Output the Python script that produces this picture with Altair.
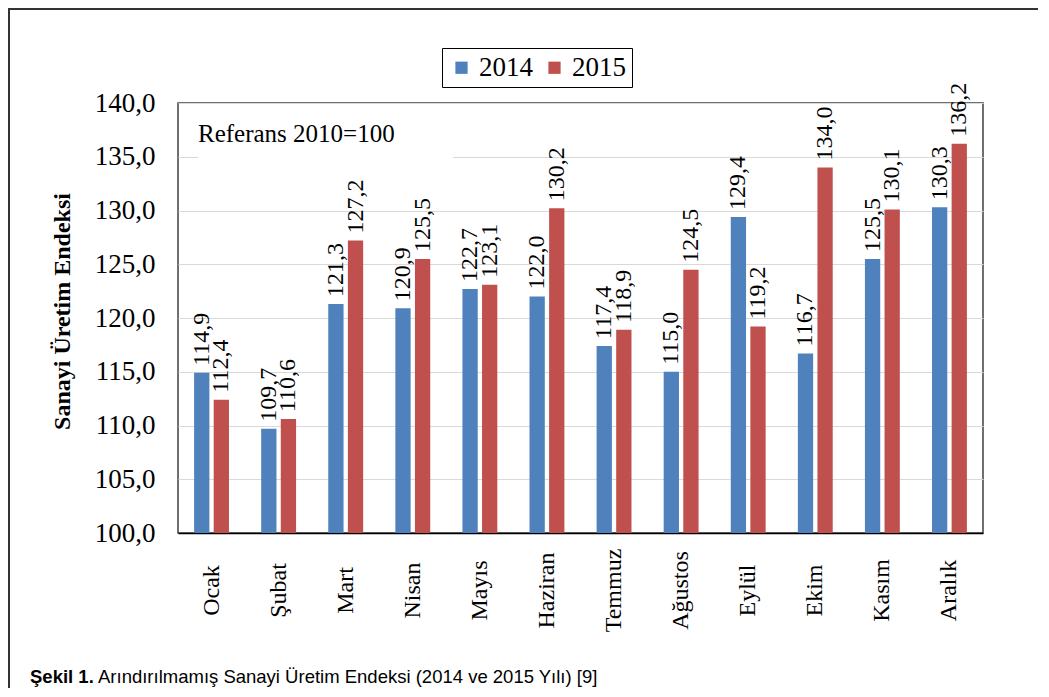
import altair as alt
import pandas as pd

months = ["Ocak", "Şubat", "Mart", "Nisan", "Mayıs", "Haziran",
          "Temmuz", "Ağustos", "Eylül", "Ekim", "Kasım", "Aralık"]
years = ["2014", "2015"]
v2014 = [114.9, 109.7, 121.3, 120.9, 122.7, 122.0, 117.4, 115.0, 129.4, 116.7, 125.5, 130.3]
v2015 = [112.4, 110.6, 127.2, 125.5, 123.1, 130.2, 118.9, 124.5, 119.2, 134.0, 130.1, 136.2]
y_ticks = [100, 105, 110, 115, 120, 125, 130, 135, 140]
colors = ["#4F81BD", "#C0504D"]

rows = []
for m, a, b in zip(months, v2014, v2015):
    rows.append({"month": m, "year": "2014", "value": a})
    rows.append({"month": m, "year": "2015", "value": b})
df = pd.DataFrame(rows)

W, H = 805, 430
serif = "Liberation Serif"
fmt = "replace(format(datum.value, '.1f'), '.', ',')"

x_enc = alt.X(
    "month:N", sort=months, title=None,
    scale=alt.Scale(paddingInner=0.48, paddingOuter=0.24),
    axis=alt.Axis(labelAngle=270, labelAlign="center", labelBaseline="middle",
                  labelPadding=57, ticks=False, domain=True, domainColor="#000000",
                  domainWidth=1.5, labelFont=serif, labelFontSize=24,
                  labelColor="#000000", grid=False),
)
xoff = alt.XOffset("year:N", sort=years, scale=alt.Scale(paddingInner=0.22))
y_enc = alt.Y(
    "value:Q",
    scale=alt.Scale(domain=[100, 140], zero=False, nice=False),
    axis=alt.Axis(values=y_ticks, labelExpr=fmt, labelFont=serif, labelFontSize=27,
                  labelColor="#000000", labelPadding=23, ticks=False, domain=False,
                  grid=True, gridColor="#D9D9D9", gridWidth=1.2,
                  title="Sanayi Üretim Endeksi", titleFont=serif, titleFontSize=24,
                  titleFontWeight="bold", titleColor="#000000", titleAngle=270,
                  titleX=-116, titleY=208, titleAlign="center", titleBaseline="middle"),
)

base = alt.Chart(df)

bars = base.mark_bar().encode(
    x=x_enc, xOffset=xoff, y=y_enc, y2=alt.datum(100),
    color=alt.Color("year:N", sort=years,
                    scale=alt.Scale(domain=years, range=colors),
                    legend=alt.Legend(title=None, orient="none", legendX=264, legendY=-55,
                                      direction="horizontal", labelFont=serif,
                                      labelFontSize=27, labelColor="#000000",
                                      symbolType="square", symbolSize=150,
                                      symbolStrokeWidth=0, strokeColor="#000000",
                                      fillColor="#FFFFFF", padding=6,
                                      columnPadding=8, labelOffset=4)),
)

labels = base.transform_calculate(label=fmt).mark_text(
    angle=270, align="left", baseline="middle", dx=7,
    font=serif, fontSize=24, color="#000000",
).encode(x=alt.X("month:N", sort=months), xOffset=alt.XOffset("year:N", sort=years),
         y="value:Q", text="label:N")

one = alt.Chart(pd.DataFrame({"a": [0]}))

ref_box = one.mark_rect(fill="#FFFFFF").encode(
    x=alt.value(20), x2=alt.value(275), y=alt.value(8), y2=alt.value(62))
ref_text = one.mark_text(align="left", baseline="alphabetic", font=serif,
                         fontSize=25, color="#000000").encode(
    x=alt.value(20), y=alt.value(39), text=alt.value("Referans 2010=100"))

border = one.mark_rect(fillOpacity=0, stroke="#333333", strokeWidth=2).encode(
    x=alt.value(-169), x2=alt.value(W + 100), y=alt.value(-94), y2=alt.value(H + 200))

cap_font = "Liberation Sans"
cap_bold = one.mark_text(align="left", baseline="alphabetic", font=cap_font,
                         fontSize=18.5, fontWeight="bold", color="#000000").encode(
    x=alt.value(-148), y=alt.value(580), text=alt.value("Şekil 1."))
cap_rest = one.mark_text(align="left", baseline="alphabetic", font=cap_font,
                         fontSize=18.5, color="#000000").encode(
    x=alt.value(-80), y=alt.value(580),
    text=alt.value("Arındırılmamış Sanayi Üretim Endeksi (2014 ve 2015 Yılı) [9]"))

chart = alt.layer(bars, labels, ref_box, ref_text, border, cap_bold, cap_rest).properties(
    width=W, height=H,
    autosize=alt.AutoSizeParams(type="none"),
    padding={"left": 170, "top": 95, "right": 55, "bottom": 155},
    background="#FFFFFF",
).configure(font=serif).configure_view(stroke="#404040", strokeWidth=1.5)

chart.save("out.html", embed_options={"renderer": "svg", "actions": False})
